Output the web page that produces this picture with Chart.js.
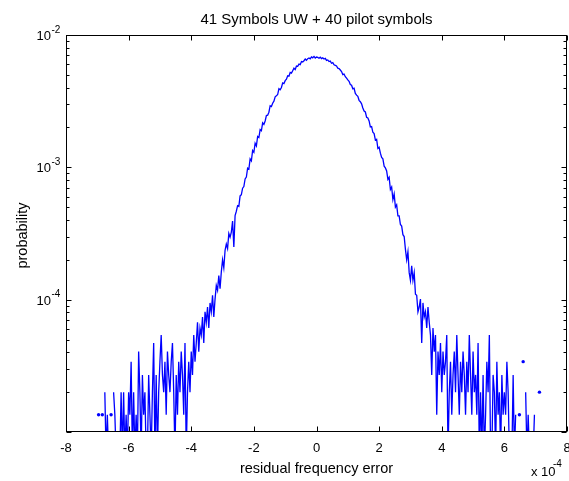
<!DOCTYPE html>
<html>
<head>
<meta charset="utf-8">
<title>41 Symbols UW + 40 pilot symbols</title>
<script src="https://cdn.jsdelivr.net/npm/chart.js@4.4.0/dist/chart.umd.min.js"></script>
<style>
  html, body { margin: 0; padding: 0; background: #fff; }
  canvas { display: block; }
</style>
</head>
<body>
<canvas id="pdfChart" width="569" height="481"></canvas>
<script>
// bin centres of the residual frequency error (x 1e-4)
const errX = [
  -6.96,-6.92,-6.88,-6.84,-6.80,-6.76,-6.72,-6.68,-6.64,-6.60,
  -6.56,-6.52,-6.48,-6.44,-6.40,-6.36,-6.32,-6.28,-6.24,-6.20,
  -6.16,-6.12,-6.08,-6.04,-6.00,-5.96,-5.92,-5.88,-5.84,-5.80,
  -5.76,-5.72,-5.68,-5.64,-5.60,-5.56,-5.52,-5.48,-5.44,-5.40,
  -5.36,-5.32,-5.28,-5.24,-5.20,-5.16,-5.12,-5.08,-5.04,-5.00,
  -4.96,-4.92,-4.88,-4.84,-4.80,-4.76,-4.72,-4.68,-4.64,-4.60,
  -4.56,-4.52,-4.48,-4.44,-4.40,-4.36,-4.32,-4.28,-4.24,-4.20,
  -4.16,-4.12,-4.08,-4.04,-4.00,-3.96,-3.92,-3.88,-3.84,-3.80,
  -3.76,-3.72,-3.68,-3.64,-3.60,-3.56,-3.52,-3.48,-3.44,-3.40,
  -3.36,-3.32,-3.28,-3.24,-3.20,-3.16,-3.12,-3.08,-3.04,-3.00,
  -2.96,-2.92,-2.88,-2.84,-2.80,-2.76,-2.72,-2.68,-2.64,-2.60,
  -2.56,-2.52,-2.48,-2.44,-2.40,-2.36,-2.32,-2.28,-2.24,-2.20,
  -2.16,-2.12,-2.08,-2.04,-2.00,-1.96,-1.92,-1.88,-1.84,-1.80,
  -1.76,-1.72,-1.68,-1.64,-1.60,-1.56,-1.52,-1.48,-1.44,-1.40,
  -1.36,-1.32,-1.28,-1.24,-1.20,-1.16,-1.12,-1.08,-1.04,-1.00,
  -0.96,-0.92,-0.88,-0.84,-0.80,-0.76,-0.72,-0.68,-0.64,-0.60,
  -0.56,-0.52,-0.48,-0.44,-0.40,-0.36,-0.32,-0.28,-0.24,-0.20,
  -0.16,-0.12,-0.08,-0.04,0.00,0.04,0.08,0.12,0.16,0.20,
  0.24,0.28,0.32,0.36,0.40,0.44,0.48,0.52,0.56,0.60,
  0.64,0.68,0.72,0.76,0.80,0.84,0.88,0.92,0.96,1.00,
  1.04,1.08,1.12,1.16,1.20,1.24,1.28,1.32,1.36,1.40,
  1.44,1.48,1.52,1.56,1.60,1.64,1.68,1.72,1.76,1.80,
  1.84,1.88,1.92,1.96,2.00,2.04,2.08,2.12,2.16,2.20,
  2.24,2.28,2.32,2.36,2.40,2.44,2.48,2.52,2.56,2.60,
  2.64,2.68,2.72,2.76,2.80,2.84,2.88,2.92,2.96,3.00,
  3.04,3.08,3.12,3.16,3.20,3.24,3.28,3.32,3.36,3.40,
  3.44,3.48,3.52,3.56,3.60,3.64,3.68,3.72,3.76,3.80,
  3.84,3.88,3.92,3.96,4.00,4.04,4.08,4.12,4.16,4.20,
  4.24,4.28,4.32,4.36,4.40,4.44,4.48,4.52,4.56,4.60,
  4.64,4.68,4.72,4.76,4.80,4.84,4.88,4.92,4.96,5.00,
  5.04,5.08,5.12,5.16,5.20,5.24,5.28,5.32,5.36,5.40,
  5.44,5.48,5.52,5.56,5.60,5.64,5.68,5.72,5.76,5.80,
  5.84,5.88,5.92,5.96,6.00,6.04,6.08,6.12,6.16,6.20,
  6.24,6.28,6.32,6.36,6.40,6.44,6.48,6.52,6.56,6.60,
  6.64,6.68,6.72,6.76,6.80,6.84,6.88,6.92,6.96,7.00,
  7.04,7.08,7.12
];

// probability of each bin, null where the bin is empty
const prob = [
  1.35e-5,null,null,1.35e-5,null,2.0e-5,6.8e-6,1.35e-5,6.8e-6,null,
  1.35e-5,null,2.0e-5,1.35e-5,6.8e-6,null,null,6.8e-6,2.0e-5,6.8e-6,
  2.0e-5,6.8e-6,1.35e-5,6.8e-6,2.0e-5,1.35e-5,3.4e-5,6.8e-6,2.0e-5,6.8e-6,
  1.35e-5,6.8e-6,4.05e-5,2.0e-5,6.8e-6,2.7e-5,1.35e-5,2.0e-5,6.8e-6,6.8e-6,
  2.7e-5,1.35e-5,6.8e-6,2.0e-5,4.7e-5,6.8e-6,2.7e-5,6.8e-6,2.0e-5,3.4e-5,
  5.4e-5,2.7e-5,2.0e-5,3.4e-5,1.35e-5,4.05e-5,2.7e-5,2.0e-5,3.4e-5,4.7e-5,
  2.0e-5,6.8e-6,2.7e-5,1.35e-5,3.4e-5,2.0e-5,4.05e-5,2.7e-5,1.35e-5,4.7e-5,
  6.8e-6,2.0e-5,3.4e-5,2.0e-5,4.05e-5,2.7e-5,5.4e-5,3.4e-5,4.7e-5,6.75e-5,
  4.05e-5,6.1e-5,5.4e-5,7.4e-5,4.7e-5,8.1e-5,6.75e-5,8.8e-5,6.1e-5,9.45e-5,
  8.1e-5,1.08e-4,7.4e-5,1.01e-4,1.28e-4,1.18e-4,1.52e-4,1.21e-4,1.62e-4,2.0e-4,
  1.74e-4,2.36e-4,2.63e-4,2.43e-4,3.17e-4,2.97e-4,3.24e-4,3.92e-4,2.5e-4,4.32e-4,
  4.66e-4,5.13e-4,5.07e-4,6.08e-4,6.21e-4,6.96e-4,7.16e-4,8.17e-4,8.44e-4,9.86e-4,
  0.97e-3,1.16e-3,1.12e-3,1.34e-3,1.30e-3,1.52e-3,1.45e-3,1.71e-3,1.68e-3,1.93e-3,
  1.89e-3,2.17e-3,2.11e-3,2.24e-3,2.46e-3,2.48e-3,2.61e-3,2.92e-3,2.88e-3,3.05e-3,
  3.16e-3,3.41e-3,3.47e-3,3.55e-3,3.93e-3,3.86e-3,4.01e-3,4.35e-3,4.30e-3,4.52e-3,
  4.63e-3,4.92e-3,4.88e-3,5.21e-3,5.15e-3,5.37e-3,5.61e-3,5.48e-3,5.83e-3,5.80e-3,
  6.03e-3,5.97e-3,6.31e-3,6.26e-3,6.39e-3,6.58e-3,6.44e-3,6.62e-3,6.71e-3,6.60e-3,
  6.84e-3,6.73e-3,6.89e-3,6.70e-3,6.81e-3,6.77e-3,6.68e-3,6.80e-3,6.63e-3,6.72e-3,
  6.59e-3,6.66e-3,6.43e-3,6.48e-3,6.30e-3,6.35e-3,6.12e-3,6.19e-3,5.95e-3,5.90e-3,
  5.84e-3,5.61e-3,5.57e-3,5.44e-3,5.29e-3,5.02e-3,5.07e-3,4.84e-3,4.72e-3,4.58e-3,
  4.47e-3,4.22e-3,4.17e-3,3.92e-3,3.96e-3,3.62e-3,3.51e-3,3.44e-3,3.21e-3,3.13e-3,
  3.02e-3,2.81e-3,2.66e-3,2.62e-3,2.39e-3,2.36e-3,2.24e-3,2.02e-3,2.03e-3,1.84e-3,
  1.80e-3,1.61e-3,1.63e-3,1.39e-3,1.42e-3,1.28e-3,1.19e-3,1.16e-3,1.02e-3,0.99e-3,
  9.4e-4,8.1e-4,8.4e-4,6.8e-4,7.1e-4,5.7e-4,6.3e-4,5.0e-4,5.2e-4,4.3e-4,
  4.3e-4,3.7e-4,3.6e-4,3.1e-4,3.0e-4,2.4e-4,2.0e-4,2.3e-4,1.6e-4,1.4e-4,
  1.8e-4,1.4e-4,1.6e-4,1.1e-4,1.08e-4,8.1e-5,8.8e-5,1.01e-4,4.7e-5,9.45e-5,
  7.4e-5,8.1e-5,6.1e-5,8.8e-5,6.75e-5,5.4e-5,2.7e-5,6.1e-5,4.05e-5,5.4e-5,
  1.35e-5,4.05e-5,2.7e-5,4.7e-5,2.0e-5,4.05e-5,2.7e-5,3.4e-5,5.4e-5,6.8e-6,
  2.0e-5,3.4e-5,1.35e-5,2.7e-5,4.05e-5,2.0e-5,5.4e-5,2.7e-5,1.35e-5,3.4e-5,
  2.0e-5,4.05e-5,2.7e-5,1.35e-5,3.4e-5,2.0e-5,5.4e-5,2.7e-5,1.35e-5,4.05e-5,
  2.0e-5,2.7e-5,1.35e-5,4.7e-5,6.8e-6,2.0e-5,6.8e-6,2.7e-5,6.8e-6,1.35e-5,
  3.4e-5,2.0e-5,5.4e-5,6.8e-6,6.8e-6,2.7e-5,2.0e-5,6.8e-6,3.4e-5,1.35e-5,
  2.0e-5,6.8e-6,2.7e-5,1.35e-5,2.0e-5,1.35e-5,3.4e-5,2.0e-5,6.8e-6,null,
  6.8e-6,2.7e-5,6.8e-6,1.35e-5,null,null,1.35e-5,null,null,3.4e-5,
  null,2.0e-5,6.8e-6,1.35e-5,6.8e-6,null,null,6.8e-6,1.35e-5,null,
  null,null,2.0e-5
];

const xTicks = [-8, -6, -4, -2, 0, 2, 4, 6, 8];
const yTicks = [1e-2, 1e-3, 1e-4];
const yTickExp = ['-2', '-3', '-4'];

const FONT = '"Liberation Sans", Arial, sans-serif';

// matlab style box, ticks and labels
const axesBox = {
    id: 'axesBox',
    afterDraw(chart) {
        const ctx = chart.ctx;
        const a = chart.chartArea;
        const xs = chart.scales.x;
        const ys = chart.scales.y;
        const L = Math.round(a.left) + 0.5;
        const R = Math.round(a.right) - 0.5;
        const T = Math.round(a.top) + 0.5;
        const B = Math.round(a.bottom) - 0.5;

        ctx.save();
        ctx.strokeStyle = '#000';
        ctx.lineWidth = 1;
        ctx.strokeRect(L, T, R - L, B - T);

        ctx.beginPath();
        xTicks.forEach(v => {
            const px = Math.round(xs.getPixelForValue(v)) + 0.5;
            ctx.moveTo(px, B); ctx.lineTo(px, B - 5);
            ctx.moveTo(px, T); ctx.lineTo(px, T + 5);
        });
        for (let e = -5; e < -2; e++) {
            for (let m = 1; m <= 9; m++) {
                const v = m * Math.pow(10, e);
                const py = Math.round(ys.getPixelForValue(v)) + 0.5;
                const len = m === 1 ? 5 : 3;
                ctx.moveTo(L, py); ctx.lineTo(L + len, py);
                ctx.moveTo(R, py); ctx.lineTo(R - len, py);
            }
        }
        ctx.stroke();

        ctx.fillStyle = '#000';
        ctx.textBaseline = 'alphabetic';

        // x tick labels
        ctx.font = '13px ' + FONT;
        ctx.textAlign = 'center';
        xTicks.forEach(v => {
            ctx.fillText(String(v), xs.getPixelForValue(v), 451.5);
        });

        // y tick labels 10^k
        yTicks.forEach((v, i) => {
            const py = ys.getPixelForValue(v);
            ctx.font = '13px ' + FONT;
            ctx.textAlign = 'right';
            ctx.fillText('10', 51, py + 5);
            ctx.font = '10px ' + FONT;
            ctx.textAlign = 'left';
            ctx.fillText(yTickExp[i], 51.5, py - 2.5);
        });

        // exponent of the x axis
        ctx.font = '13px ' + FONT;
        ctx.textAlign = 'left';
        ctx.fillText('x 10', 531, 476);
        ctx.font = '10px ' + FONT;
        ctx.fillText('-4', 553, 467);

        // title and axis labels
        const cx = (a.left + a.right) / 2;
        ctx.textAlign = 'center';
        ctx.font = '15px ' + FONT;
        ctx.fillText('41 Symbols UW + 40 pilot symbols', cx, 23.5);
        ctx.font = '14.5px ' + FONT;
        ctx.fillText('residual frequency error', cx, 472.5);

        ctx.translate(27, (a.top + a.bottom) / 2 + 2);
        ctx.rotate(-Math.PI / 2);
        ctx.fillText('probability', 0, 0);
        ctx.restore();
    }
};

// a bin with empty neighbours is shown as a dot
function isolatedRadius(context) {
    const i = context.dataIndex;
    if (prob[i] === null) return 0;
    const before = i > 0 ? prob[i - 1] : null;
    const after = i < prob.length - 1 ? prob[i + 1] : null;
    return (before === null && after === null) ? 1.7 : 0;
}

const ctxPdf = document.getElementById('pdfChart');

const pdfChart = new Chart(ctxPdf, {
    type: 'line',
    data: {
        datasets: [{
            label: 'probability',
            data: errX.map((x, i) => ({ x: x, y: prob[i] })),
            borderColor: '#0000ff',
            backgroundColor: '#0000ff',
            borderWidth: 1.3,
            tension: 0,
            spanGaps: false,
            pointRadius: isolatedRadius,
            pointHoverRadius: 0,
            pointBorderWidth: 0,
            pointBackgroundColor: '#0000ff'
        }]
    },
    options: {
        responsive: false,
        animation: false,
        devicePixelRatio: 1,
        events: [],
        layout: {
            padding: { left: 66, right: 2, top: 35, bottom: 49 }
        },
        plugins: {
            legend: { display: false },
            tooltip: { enabled: false },
            title: { display: false }
        },
        scales: {
            x: {
                type: 'linear',
                min: -8,
                max: 8,
                display: false
            },
            y: {
                type: 'logarithmic',
                min: 1e-5,
                max: 1e-2,
                display: false
            }
        }
    },
    plugins: [axesBox]
});
</script>
</body>
</html>
